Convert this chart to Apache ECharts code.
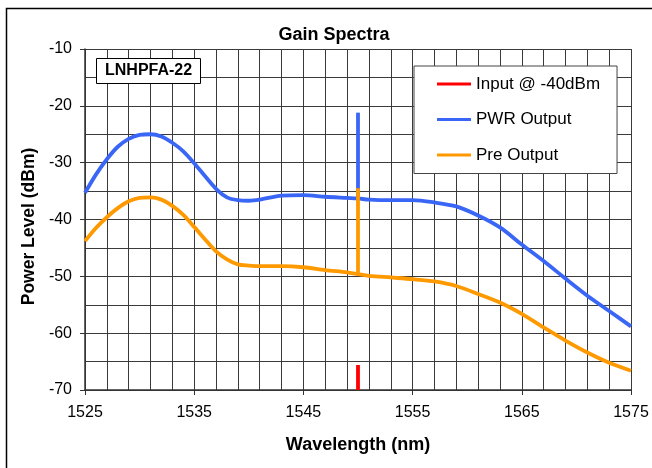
<!DOCTYPE html>
<html>
<head>
<meta charset="utf-8">
<script src="https://cdn.jsdelivr.net/npm/echarts@6/dist/echarts.min.js"></script>
<style>html,body{margin:0;padding:0;background:#fff}#c{width:652px;height:468px}</style>
</head>
<body>
<div id="c"></div>
<script>
// Wavelength (nm)
var wavelengths = [1525,1526,1527,1528,1529,1530,1531,1532,1533,1534,1535,1536,1537,1538,1539,1540,1541,
  1543,1545,1547,1549,1550,1551,1553,1555,1557,1559,1561,1563,1565,1567,1569,1571,1573,1575];
// PWR Output (dBm)
var pwrOutput = [-35.3,-32.1,-29.4,-27.2,-25.8,-25.1,-25.0,-25.4,-26.5,-28.0,-30.1,-32.4,-34.6,-36.1,-36.6,-36.7,-36.5,
  -35.8,-35.7,-36.0,-36.2,-36.3,-36.5,-36.6,-36.6,-37.0,-37.7,-39.3,-41.4,-44.4,-47.3,-50.4,-53.4,-56.1,-58.8];
// Pre Output (dBm)
var preOutput = [-43.8,-41.5,-39.6,-38.0,-36.8,-36.2,-36.1,-36.5,-37.6,-39.2,-41.3,-43.5,-45.6,-47.0,-47.9,-48.1,-48.2,
  -48.2,-48.4,-48.9,-49.3,-49.6,-49.9,-50.2,-50.5,-50.9,-51.7,-53.1,-54.6,-56.6,-59.0,-61.3,-63.4,-65.2,-66.6];
// Signal line at 1550 nm
var spikeX = [1550, 1550];
var pwrSpike = [-36.3, -21.2];
var preSpike = [-49.6, -34.5];
var inputSignal = [-70, -65.6];
// Axis ticks
var xTicks = [1525, 1535, 1545, 1555, 1565, 1575];
var yTicks = [-70, -60, -50, -40, -30, -20, -10];

function pairs(xs, ys) { return xs.map(function (x, i) { return [x, ys[i]]; }); }

var FONT = '"Liberation Sans", Arial, sans-serif';
var BLUE = '#3a66f5', ORANGE = '#ff9900', RED = '#ff0000';
var GRIDC = '#3a3a3a';
var LW = 3.8;

var chart = echarts.init(document.getElementById('c'), null, {renderer: 'canvas'});
chart.setOption({
  animation: false,
  backgroundColor: '#fff',
  textStyle: {fontFamily: FONT},
  title: [
    {text: 'Gain Spectra', left: 329, top: 21, textAlign: 'center',
     textStyle: {fontFamily: FONT, fontSize: 18, fontWeight: 'bold', color: '#000'}},
    {text: 'LNHPFA-22', left: 96, top: 58, padding: [4, 9, 4, 9],
     borderColor: '#000', borderWidth: 1, backgroundColor: '#fff',
     textStyle: {fontFamily: FONT, fontSize: 16, fontWeight: 'bold', color: '#000', lineHeight: 18}}
  ],
  graphic: [
    {type: 'rect', shape: {x: 6.5, y: 8.5, width: 700, height: 500},
     style: {fill: 'none', stroke: '#000', lineWidth: 1.5}, silent: true}
  ],
  legend: {
    orient: 'vertical', left: 414, top: 66,
    data: ['Input @ -40dBm', 'PWR Output', 'Pre Output'],
    icon: 'rect', itemWidth: 34, itemHeight: 3, itemGap: 18.5,
    padding: [9.5, 17, 10, 23],
    backgroundColor: '#fff', borderColor: '#444', borderWidth: 1,
    textStyle: {fontFamily: FONT, fontSize: 17, color: '#000'}
  },
  grid: {left: 85, right: 21, top: 49, bottom: 78, containLabel: false},
  xAxis: {
    type: 'value', min: 1525, max: 1575, interval: 10,
    name: 'Wavelength (nm)', nameLocation: 'middle', nameGap: 46,
    nameTextStyle: {fontFamily: FONT, fontSize: 18, fontWeight: 'bold', color: '#000'},
    axisLine: {show: true, lineStyle: {color: '#333', width: 1.5}},
    axisTick: {show: true, length: 5, lineStyle: {color: '#333'}},
    axisLabel: {fontFamily: FONT, fontSize: 16, color: '#000', margin: 15,
      formatter: function (v) { return String(v); }},
    splitLine: {show: true, lineStyle: {color: GRIDC, width: 1}},
    minorTick: {show: false, splitNumber: 5},
    minorSplitLine: {show: true, lineStyle: {color: GRIDC, width: 1}}
  },
  yAxis: {
    type: 'value', min: -70, max: -10, interval: 10,
    name: 'Power Level (dBm)', nameLocation: 'middle', nameGap: 47,
    nameTextStyle: {fontFamily: FONT, fontSize: 17.5, fontWeight: 'bold', color: '#000', padding: [0, 14, 0, 0]},
    axisLine: {show: true, lineStyle: {color: '#333', width: 1.5}},
    axisTick: {show: true, length: 5, lineStyle: {color: '#333'}},
    axisLabel: {fontFamily: FONT, fontSize: 16, color: '#000', margin: 13},
    splitLine: {show: true, lineStyle: {color: GRIDC, width: 1}},
    minorTick: {show: false, splitNumber: 2},
    minorSplitLine: {show: true, lineStyle: {color: GRIDC, width: 1}}
  },
  series: [
    {name: 'Input @ -40dBm', type: 'line', data: pairs(spikeX, inputSignal), showSymbol: false, symbol: 'none',
     lineStyle: {color: RED, width: LW}, itemStyle: {color: RED}, z: 3},
    {name: 'PWR Output', type: 'line', data: pairs(wavelengths, pwrOutput), showSymbol: false, symbol: 'none',
     smooth: 0.3, lineStyle: {color: BLUE, width: LW}, itemStyle: {color: BLUE}, z: 3},
    {name: 'PWR Output', type: 'line', data: pairs(spikeX, pwrSpike), showSymbol: false, symbol: 'none',
     lineStyle: {color: BLUE, width: LW}, itemStyle: {color: BLUE}, z: 3},
    {name: 'Pre Output', type: 'line', data: pairs(wavelengths, preOutput), showSymbol: false, symbol: 'none',
     smooth: 0.3, lineStyle: {color: ORANGE, width: LW}, itemStyle: {color: ORANGE}, z: 4},
    {name: 'Pre Output', type: 'line', data: pairs(spikeX, preSpike), showSymbol: false, symbol: 'none',
     lineStyle: {color: ORANGE, width: LW}, itemStyle: {color: ORANGE}, z: 4}
  ]
});
</script>
</body>
</html>
